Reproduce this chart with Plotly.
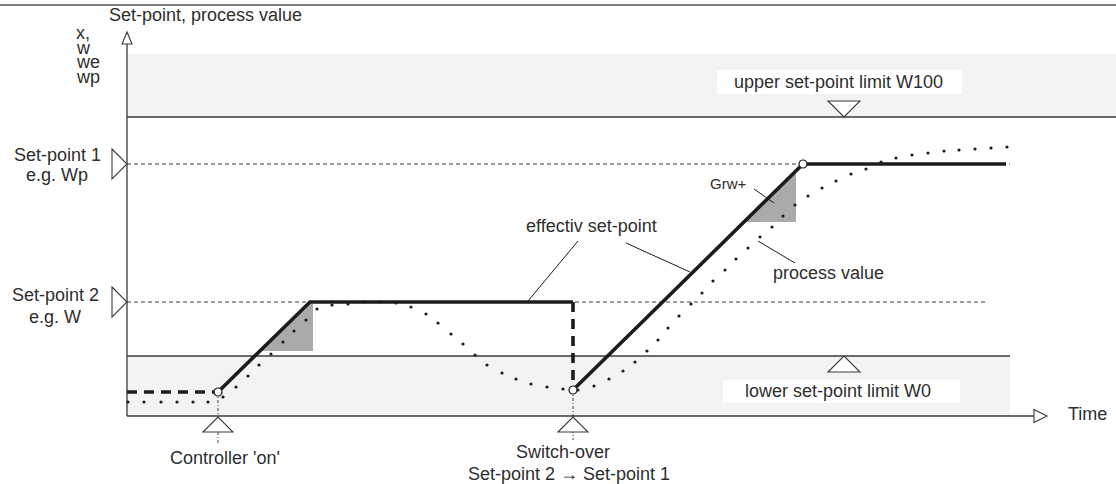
import plotly.graph_objects as go

# ---------------- Diagram values (t = time axis, v = value axis; origin = axes crossing) ----
T_LEFT = -127          # left edge of drawing
T_RIGHT = 989          # right edge of drawing
V_BOTTOM = -68
V_TOP = 416
V_TOP_RULE = 411       # thin rule at top of page
V_AXIS_TIP = 384       # tip of value-axis arrow
V_AXIS_END = 372
T_AXIS_END = 907
T_AXIS_TIP = 920

W0 = 60                # lower set-point limit
W100 = 299             # upper set-point limit
V_BAND_TOP = 362       # top of the upper limit band
T_LOWER_BAND_END = 883
SP1 = 252              # set-point 1 (Wp)
SP2 = 114              # set-point 2 (W)
T_SP1_END = 883
T_SP2_END = 861

T_ON = 91              # controller 'on'
T_SWITCH = 446         # switch-over set-point 2 -> set-point 1
T_LIMIT_MARK = 717     # position of limit markers

# effective set-point
eff_pre_t = [0, 91]
eff_pre_v = [24, 24]
eff_ramp1_t = [91, 183, 446]
eff_ramp1_v = [24, 114, 114]
eff_drop_t = [446, 446]
eff_drop_v = [114, 26]
eff_ramp2_t = [446, 676, 879]
eff_ramp2_v = [26, 252, 252]
knee_t = [91, 446, 676]
knee_v = [24, 26, 252]

# process value
pv_t = [1, 17, 34, 50, 66, 81, 96, 109, 121, 132, 144, 156, 167, 179, 190,
        205, 221, 237, 253, 269, 284, 299, 311, 324, 336, 348, 360, 375, 389,
        404, 420, 436, 451, 467, 482, 496, 508, 520, 531, 541, 552, 564, 575,
        586, 598, 609, 621, 633, 645, 656, 668, 681, 695, 709, 724, 739, 754,
        769, 785, 801, 817, 832, 848, 864, 880]
pv_v = [14, 14, 14, 14, 14, 14, 19, 29, 40, 51, 62, 74, 85, 96, 107,
        111, 112, 114, 114, 113, 109, 102, 93, 82, 72, 61, 51, 43, 37,
        32, 29, 27, 26, 30, 37, 45, 54, 65, 76, 88, 100, 112, 123,
        135, 146, 157, 168, 179, 189, 200, 211, 220, 228, 235, 242, 247, 254,
        258, 261, 263, 265, 266, 267, 268, 269]

# gradient (Grw+) triangles
grw1_t = [133, 186, 186, 183]
grw1_v = [65, 65, 114, 114]
grw2_t = [617, 669, 669]
grw2_v = [194, 194, 245]

# leader lines for labels ((t0, v0), (t1, v1))
leaders = [((451, 175), (401, 115)),
           ((499, 173), (563, 144)),
           ((631, 175), (668, 153)),
           ((627, 227), (647, 213))]

# ---------------- styles ----------------
FONT = "Liberation Sans, Arial, sans-serif"
TXT = "#2e2e2e"
INK = "#1c1c1c"
LINE = "#3a3a3a"
BAND = "#f3f3f3"
GREY = "#a9aaac"

fig = go.Figure()

# Grw+ shaded triangles
for tt, vv in [(grw1_t, grw1_v), (grw2_t, grw2_v)]:
    fig.add_trace(go.Scatter(x=tt, y=vv, mode="lines", fill="toself",
                             fillcolor=GREY, line=dict(width=0, color=GREY),
                             hoverinfo="skip", showlegend=False))

# process value (dotted)
fig.add_trace(go.Scatter(x=pv_t, y=pv_v, mode="markers",
                         marker=dict(size=3.2, color=INK, line=dict(width=0)),
                         hoverinfo="skip", showlegend=False))

# effective set-point
for tt, vv, dash in [(eff_pre_t, eff_pre_v, "10px,7px"),
                     (eff_ramp1_t, eff_ramp1_v, "solid"),
                     (eff_drop_t, eff_drop_v, "10px,7px"),
                     (eff_ramp2_t, eff_ramp2_v, "solid")]:
    fig.add_trace(go.Scatter(x=tt, y=vv, mode="lines",
                             line=dict(width=3.6, color=INK, dash=dash),
                             hoverinfo="skip", showlegend=False))

fig.add_trace(go.Scatter(x=knee_t, y=knee_v, mode="markers",
                         marker=dict(size=8, color="white",
                                     line=dict(width=1.2, color=INK)),
                         hoverinfo="skip", showlegend=False))

shapes = []


def line(x0, y0, x1, y1, width=1.3, color=LINE, dash="solid", layer="below"):
    shapes.append(dict(type="line", xref="x", yref="y", x0=x0, y0=y0, x1=x1, y1=y1,
                       line=dict(width=width, color=color, dash=dash), layer=layer))


def rect(x0, y0, x1, y1, fill, layer="below"):
    shapes.append(dict(type="rect", xref="x", yref="y", x0=x0, y0=y0, x1=x1, y1=y1,
                       fillcolor=fill, line=dict(width=0), layer=layer))


def tri(pts, layer="below"):
    p = "M " + " L ".join(f"{a},{b}" for a, b in pts) + " Z"
    shapes.append(dict(type="path", xref="x", yref="y", path=p, fillcolor="white",
                       line=dict(width=1.1, color=LINE), layer=layer))


# top rule
line(T_LEFT, V_TOP_RULE, T_RIGHT, V_TOP_RULE, width=1.5, color="#555555")
# limit bands
rect(0, W100, T_RIGHT, V_BAND_TOP, BAND)
rect(0, 0, T_LOWER_BAND_END, W0, BAND)
line(0, W100, T_RIGHT, W100, width=1.4)
line(0, W0, T_LOWER_BAND_END, W0, width=1.4)
# white label boxes
rect(590, 322, 835, 346, "white")
rect(596, 13, 833, 36, "white")
# set-point levels
line(0, SP1, T_SP1_END, SP1, width=1, dash="4px,3px")
line(0, SP2, T_SP2_END, SP2, width=1, dash="4px,3px")
# axes
line(0, 0, 0, V_AXIS_END, width=1.3)
line(0, 0, T_AXIS_END, 0, width=1.3)
tri([(-5, V_AXIS_END), (0, V_AXIS_TIP), (5, V_AXIS_END)])
tri([(T_AXIS_END, -6.5), (T_AXIS_TIP, 0), (T_AXIS_END, 6.5)])
# set-point markers on value axis
for sp in (SP1, SP2):
    tri([(-15, sp + 15), (0, sp), (-15, sp - 15)])
# limit markers
tri([(T_LIMIT_MARK - 16, W100 + 16), (T_LIMIT_MARK, W100), (T_LIMIT_MARK + 16, W100 + 16)])
tri([(T_LIMIT_MARK - 16, W0 - 16), (T_LIMIT_MARK, W0), (T_LIMIT_MARK + 16, W0 - 16)])
# event markers below time axis
for te, vs, ve in [(T_ON, 24, -28), (T_SWITCH, 26, -24)]:
    line(te, vs, te, ve, width=1, color="#444444", dash="3px,2px,1px,2px")
    tri([(te - 15, -16), (te, -1), (te + 15, -16)])
# leader lines
for (a, b) in leaders:
    line(a[0], a[1], b[0], b[1], width=1, color=INK, layer="above")

annotations = []


def text(x, y, s, size=18, anchor="center"):
    annotations.append(dict(x=x, y=y, xref="x", yref="y", text=s, showarrow=False,
                            xanchor=anchor, yanchor="middle",
                            font=dict(family=FONT, size=size, color=TXT)))


text(78, 401, "Set-point, process value")
for i, s in enumerate(["x,", "w", "we", "wp"]):
    text(-53, 383 - i * 14.5, s, anchor="left")
text(-70, 261, "Set-point 1")
text(-70, 241, "e.g. Wp")
text(-72, 121, "Set-point 2")
text(-72, 99, "e.g. W")
text(711, 334, "upper set-point limit W100")
text(711, 25, "lower set-point limit W0")
text(464, 190, "effectiv set-point")
text(701, 143, "process value")
text(601, 233, "Grw+", size=15)
text(939, 2, "Time", anchor="left")
text(98, -42, "Controller 'on'")
text(436, -36, "Switch-over")
text(442, -58, "Set-point 2 \u2192 Set-point 1")

fig.update_layout(
    width=1116, height=484, autosize=False,
    margin=dict(l=0, r=0, t=0, b=0, pad=0),
    paper_bgcolor="white", plot_bgcolor="white",
    xaxis=dict(range=[T_LEFT, T_RIGHT], visible=False, fixedrange=True),
    yaxis=dict(range=[V_BOTTOM, V_TOP], visible=False, fixedrange=True),
    shapes=shapes, annotations=annotations, showlegend=False,
)

fig.write_html("out.html", config={"displayModeBar": False},
               post_script="document.body.style.margin='0';"
                           "document.body.style.overflow='hidden';")
